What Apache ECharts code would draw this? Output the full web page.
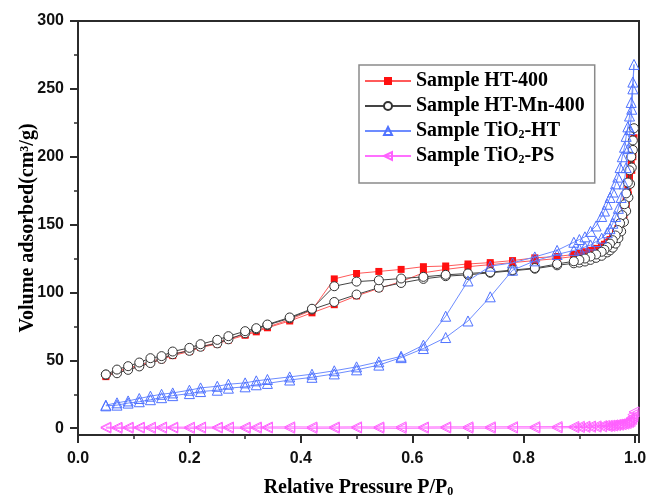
<!DOCTYPE html>
<html>
<head>
<meta charset="utf-8">
<script src="https://cdn.jsdelivr.net/npm/echarts@6/dist/echarts.min.js"></script>
<style>html,body{margin:0;padding:0;background:#fff}#c{width:647px;height:497px}</style>
</head>
<body>
<div id="c"></div>
<script>
const pAds = [0.05, 0.07, 0.09, 0.11, 0.13, 0.15, 0.17, 0.20, 0.22, 0.25, 0.27, 0.30, 0.32, 0.34, 0.38, 0.42, 0.46, 0.50, 0.54, 0.58, 0.62, 0.66, 0.70, 0.74, 0.78, 0.82, 0.86, 0.89, 0.90, 0.91, 0.92, 0.93, 0.94, 0.95, 0.955, 0.96, 0.965, 0.97, 0.975, 0.98, 0.984, 0.988, 0.991, 0.994, 0.996, 0.998];
const pDes = [0.996, 0.993, 0.99, 0.987, 0.984, 0.981, 0.977, 0.973, 0.969, 0.965, 0.96, 0.955, 0.95, 0.945, 0.94, 0.93, 0.92, 0.91, 0.90, 0.89, 0.86, 0.82, 0.78, 0.74, 0.70, 0.66, 0.62, 0.58, 0.54, 0.50, 0.46, 0.42, 0.38, 0.34, 0.32, 0.30, 0.27, 0.25, 0.22, 0.20, 0.17, 0.15, 0.13, 0.11, 0.09, 0.07, 0.05];

const ht400Ads = [38, 41, 43.5, 45.5, 48, 50.5, 53.5, 56.5, 59.5, 62, 65, 68.5, 71, 74, 79, 85, 91, 97.5, 103, 108, 114.5, 117, 119, 120.5, 122, 123.5, 125, 126.5, 127.5, 128.5, 130, 131.5, 133.5, 136, 138, 140, 143, 147, 151, 157, 164, 172, 180, 190, 200, 214];
const ht400Des = [205, 195, 185, 177, 168, 162, 156, 151, 147, 144, 141, 139, 137, 135.5, 134, 132.5, 131, 130, 129, 128, 126.5, 125.5, 123.5, 122, 121, 119.5, 119, 117, 115.5, 114, 110, 87, 80, 74.5, 72, 69, 66, 63, 60, 57.5, 54.5, 51.5, 49, 46.5, 44.5, 42, 39];

const htMnAds = [39.5, 40.5, 43, 45.5, 48, 51, 54.5, 57, 60, 62.5, 65.5, 70, 73, 76, 81, 87.5, 93, 98.5, 103.5, 107, 110, 112, 113, 114.5, 116, 117.5, 120, 121.5, 122, 122.8, 124, 125.5, 127, 129.5, 131, 133, 136, 140, 145, 152, 160, 170, 180, 192, 205, 221];
const htMnDes = [212, 200, 190, 181, 173, 165, 157, 151, 146, 142, 138.5, 136, 133.5, 131.5, 130, 128, 126.5, 125, 124, 123, 121, 118, 116.5, 115, 114, 113, 111.5, 110.3, 109, 108, 104.6, 88, 81.6, 76.4, 73.7, 71.5, 67.8, 65.1, 61.9, 59.2, 56.5, 53.1, 51.6, 48.4, 45.7, 43.2, 39.6];

const tiHtAds = [16.5, 17, 18.5, 19.5, 21, 22.5, 24, 25.5, 27, 28, 29.5, 30.5, 32, 33, 35.5, 37.5, 40, 43, 46.5, 52, 58.7, 66.8, 79, 96.8, 116.4, 123.3, 128, 131, 132, 133.5, 135, 137.5, 140, 144, 147, 151, 156, 162, 170, 180, 192, 206, 220, 235, 250, 268];
const tiHtDes = [255, 240, 230, 222, 215, 207, 200, 192, 185, 180, 174, 170, 165, 160, 156, 149, 145, 141, 139, 137, 131, 126.2, 121.8, 119.4, 108.5, 82.5, 61.2, 53, 48.9, 45.2, 42.3, 39.8, 37.8, 35.9, 34.9, 33.4, 32.4, 30.9, 29.7, 28, 26, 25, 23.6, 21.9, 20.1, 18.7, 17];

const tiPsAds = [0.1, -0.1, 0, 0.1, -0.1, 0, 0.1, -0.1, 0, 0.1, 0, -0.1, 0, 0.1, 0, -0.1, 0, 0.1, 0, -0.1, 0, 0.1, 0, 0, 0.1, 0.1, 0.2, 0.4, 0.5, 0.6, 0.7, 0.8, 1.0, 1.2, 1.4, 1.6, 1.9, 2.2, 2.6, 3.0, 3.5, 4.2, 5, 6.5, 8.5, 12];
const tiPsDes = [10, 7.5, 6, 5, 4.4, 4, 3.6, 3.2, 3, 2.7, 2.5, 2.3, 2.1, 2, 1.9, 1.7, 1.6, 1.5, 1.4, 1.3, 1.2, 1.1, 1.1, 1.0, 1.0, 1.0, 0.9, 1.0, 0.9, 1.0, 0.9, 0.9, 1.0, 0.9, 0.9, 0.8, 0.9, 0.8, 0.9, 0.8, 0.8, 0.9, 0.8, 0.8, 0.8, 0.7, 0.8];

const seriesNames = ['Sample HT-400', 'Sample HT-Mn-400', 'Sample TiO2-HT', 'Sample TiO2-PS'];
const yTicks = [0, 50, 100, 150, 200, 250, 300];
const yMinor = [25, 75, 125, 175, 225, 275];

function loop(ya, yd) {
  const out = [];
  pAds.forEach((p, i) => out.push([p, ya[i]]));
  pDes.forEach((p, i) => out.push([p, yd[i]]));
  return out;
}

const AX = '#2b2b2b';
const serif = 'Liberation Serif';
const sans = 'Liberation Sans';
const X_MAX = 1.007, Y_MIN = -5, Y_MAX = 300;

function tickOnlyY(vals, len, w) {
  return {
    type: 'value', min: Y_MIN, max: Y_MAX, splitNumber: 6, position: 'left',
    axisLine: {show: false},
    axisTick: {show: true, inside: false, length: len, lineStyle: {color: AX, width: w}, customValues: vals},
    axisLabel: {show: false},
    splitLine: {show: false}
  };
}

const chart = echarts.init(document.getElementById('c'), null, {renderer: 'canvas'});
chart.setOption({
  animation: false,
  backgroundColor: '#fff',
  grid: {left: 78, right: 8, top: 21, bottom: 62, outerBoundsMode: 'none', containLabel: false,
    show: true, borderColor: AX, borderWidth: 2, backgroundColor: 'transparent'},
  legend: {
    left: 359, top: 65, orient: 'vertical',
    padding: [6, 10, 17, 5],
    itemGap: 5, itemWidth: 46, itemHeight: 10,
    borderColor: '#8a8a8a', borderWidth: 1.5,
    data: seriesNames,
    formatter: n => n.replace('TiO2', 'TiO{s|2}'),
    textStyle: {
      fontFamily: serif, fontWeight: 'bold', fontSize: 20, color: '#000', lineHeight: 20,
      rich: {s: {fontFamily: serif, fontWeight: 'bold', fontSize: 12, verticalAlign: 'bottom', lineHeight: 6, color: '#000'}}
    }
  },
  xAxis: {
    type: 'value', min: 0, max: X_MAX, interval: 0.2, position: 'bottom',
    name: 'Relative Pressure P/P{s|0}', nameLocation: 'middle', nameGap: 43, nameMoveOverlap: false,
    nameTextStyle: {fontFamily: serif, fontWeight: 'bold', fontSize: 20, color: '#000',
      rich: {s: {fontFamily: serif, fontWeight: 'bold', fontSize: 12, verticalAlign: 'bottom', lineHeight: 10, color: '#000'}}},
    axisLine: {show: true, onZero: false, lineStyle: {color: AX, width: 2}},
    axisTick: {show: true, inside: false, length: 8, lineStyle: {color: AX, width: 2}},
    minorTick: {show: true, splitNumber: 2, length: 4, lineStyle: {color: AX, width: 1.5}},
    axisLabel: {show: true, margin: 16, fontFamily: sans, fontWeight: 'bold', fontSize: 16, color: '#111',
      showMaxLabel: false, formatter: v => (v > 1.0001 ? '' : v.toFixed(1))},
    splitLine: {show: false}, minorSplitLine: {show: false}
  },
  yAxis: [{
    type: 'value', min: Y_MIN, max: Y_MAX, splitNumber: 6, position: 'left',
    name: 'Volume adsorbed(cm³/g)', nameLocation: 'middle', nameGap: 40, nameRotate: 90, nameMoveOverlap: false,
    nameTextStyle: {fontFamily: serif, fontWeight: 'bold', fontSize: 20, color: '#000'},
    axisLine: {show: true, onZero: false, lineStyle: {color: AX, width: 2}},
    axisTick: {show: false},
    axisLabel: {show: true, margin: 14, fontFamily: sans, fontWeight: 'bold', fontSize: 16, color: '#111',
      formatter: v => (v % 50 === 0 ? String(v) : '')},
    splitLine: {show: false}
  }, tickOnlyY(yTicks, 8, 2), tickOnlyY(yMinor, 4, 1.5)],
  series: [
    {
      name: seriesNames[0], type: 'line', data: loop(ht400Ads, ht400Des),
      symbol: 'rect', symbolSize: 7,
      lineStyle: {color: '#ff5a5a', width: 1},
      itemStyle: {color: '#ff1010', borderColor: '#ff1010', borderWidth: 0},
      emphasis: {disabled: true}, z: 2
    },
    {
      name: seriesNames[1], type: 'line', data: loop(htMnAds, htMnDes),
      symbol: 'circle', symbolSize: 9,
      lineStyle: {color: '#444', width: 1},
      itemStyle: {color: '#fff', borderColor: '#333', borderWidth: 1},
      emphasis: {disabled: true}, z: 3
    },
    {
      name: seriesNames[2], type: 'line', data: loop(tiHtAds, tiHtDes),
      symbol: 'triangle', symbolSize: 10,
      lineStyle: {color: '#6d8cff', width: 1},
      itemStyle: {color: 'rgba(255,255,255,0)', borderColor: '#4f72ff', borderWidth: 1},
      emphasis: {disabled: true}, z: 4
    },
    {
      name: seriesNames[3], type: 'line', data: loop(tiPsAds, tiPsDes),
      symbol: 'triangle', symbolSize: 10, symbolRotate: 90,
      lineStyle: {color: '#ff70ff', width: 1},
      itemStyle: {color: 'rgba(255,255,255,0)', borderColor: '#ff60ff', borderWidth: 1},
      emphasis: {disabled: true}, z: 5
    }
  ]
});
</script>
</body>
</html>
